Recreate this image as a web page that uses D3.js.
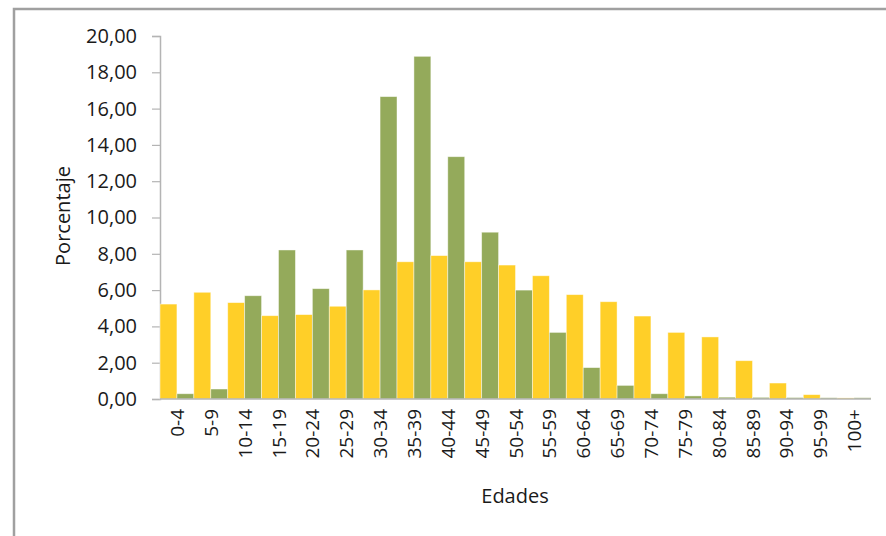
<!DOCTYPE html>
<html>
<head>
<meta charset="utf-8">
<script src="https://cdn.jsdelivr.net/npm/d3@7"></script>
<style>
  html, body { margin: 0; padding: 0; background: #fff; }
  svg { display: block; }
  text { font-family: "Open Sans", "Noto Sans", sans-serif; fill: #1a1a1a; }
</style>
</head>
<body>
<svg id="chart" width="886" height="536"></svg>
<script>
// Age groups (quinquennial) and the two percentage distributions
const ageGroups = ["0-4","5-9","10-14","15-19","20-24","25-29","30-34","35-39","40-44","45-49",
                   "50-54","55-59","60-64","65-69","70-74","75-79","80-84","85-89","90-94","95-99","100+"];
const seriesA = [5.23, 5.88, 5.31, 4.59, 4.65, 5.11, 6.01, 7.56, 7.90, 7.56,
                 7.38, 6.79, 5.75, 5.36, 4.57, 3.67, 3.42, 2.11, 0.88, 0.24, 0.06];
const seriesB = [0.29, 0.55, 5.69, 8.21, 6.08, 8.21, 16.66, 18.88, 13.35, 9.19,
                 6.00, 3.67, 1.73, 0.75, 0.29, 0.17, 0.10, 0.09, 0.08, 0.07, 0.07];
const yTicks = [0, 2, 4, 6, 8, 10, 12, 14, 16, 18, 20];
const seriesColors = ["#FFCF28", "#94AA5B"];

const svg = d3.select("#chart");
const plot = { left: 160, right: 871, top: 36, bottom: 399 };

// Outer chart frame (only top and left edges fall inside the canvas)
svg.append("rect")
  .attr("x", 14).attr("y", 9).attr("width", 900).attr("height", 600)
  .attr("fill", "none").attr("stroke", "#a0a0a0").attr("stroke-width", 2.5);

// 21 groups share the axis; the last one sits at the right edge
const x = d3.scaleBand().domain(ageGroups).range([plot.left, plot.right]).padding(0);
const y = d3.scaleLinear().domain([0, 20]).range([plot.bottom, plot.top]);
const inner = d3.scaleBand().domain([0, 1]).range([0, x.bandwidth()]).padding(0);

const fmt = v => d3.format(".2f")(v).replace(".", ",");

// Y axis
const yAxis = svg.append("g")
  .attr("transform", `translate(${plot.left},0)`)
  .call(d3.axisLeft(y).tickValues(yTicks).tickFormat(fmt).tickSize(8).tickPadding(15));
yAxis.select(".domain").attr("stroke", "#b4b4b4").attr("stroke-width", 1.5);
yAxis.selectAll(".tick line").attr("stroke", "#b4b4b4").attr("stroke-width", 1.2);
yAxis.selectAll(".tick text")
  .attr("font-size", 20).attr("fill", "#1a1a1a")
  .style("font-family", '"Open Sans", "Noto Sans", sans-serif');

// Bars
const groups = svg.append("g").selectAll("g")
  .data(ageGroups)
  .join("g")
  .attr("transform", d => `translate(${x(d)},0)`);

[seriesA, seriesB].forEach((series, si) => {
  groups.append("rect")
    .attr("x", inner(si))
    .attr("y", (d, i) => y(series[i]))
    .attr("width", inner.bandwidth())
    .attr("height", (d, i) => plot.bottom - y(series[i]))
    .attr("fill", seriesColors[si])
    .attr("stroke", "rgba(255,255,255,0.55)")
    .attr("stroke-width", 0.8);
});

// X axis baseline
svg.append("line")
  .attr("x1", plot.left).attr("x2", plot.right)
  .attr("y1", plot.bottom).attr("y2", plot.bottom)
  .attr("stroke", "#b4b4b4").attr("stroke-width", 1.5);

// Rotated category labels
svg.append("g").selectAll("text")
  .data(ageGroups)
  .join("text")
  .attr("transform", d => `translate(${x(d) + x.bandwidth() / 2},409) rotate(-90)`)
  .attr("text-anchor", "end")
  .attr("dominant-baseline", "central")
  .attr("font-size", 19)
  .text(d => d);

// Axis titles
svg.append("text")
  .attr("transform", "translate(62,216) rotate(-90)")
  .attr("text-anchor", "middle")
  .attr("dominant-baseline", "central")
  .attr("font-size", 20)
  .text("Porcentaje");

svg.append("text")
  .attr("x", 515).attr("y", 503)
  .attr("text-anchor", "middle")
  .attr("font-size", 20)
  .text("Edades");
</script>
</body>
</html>
